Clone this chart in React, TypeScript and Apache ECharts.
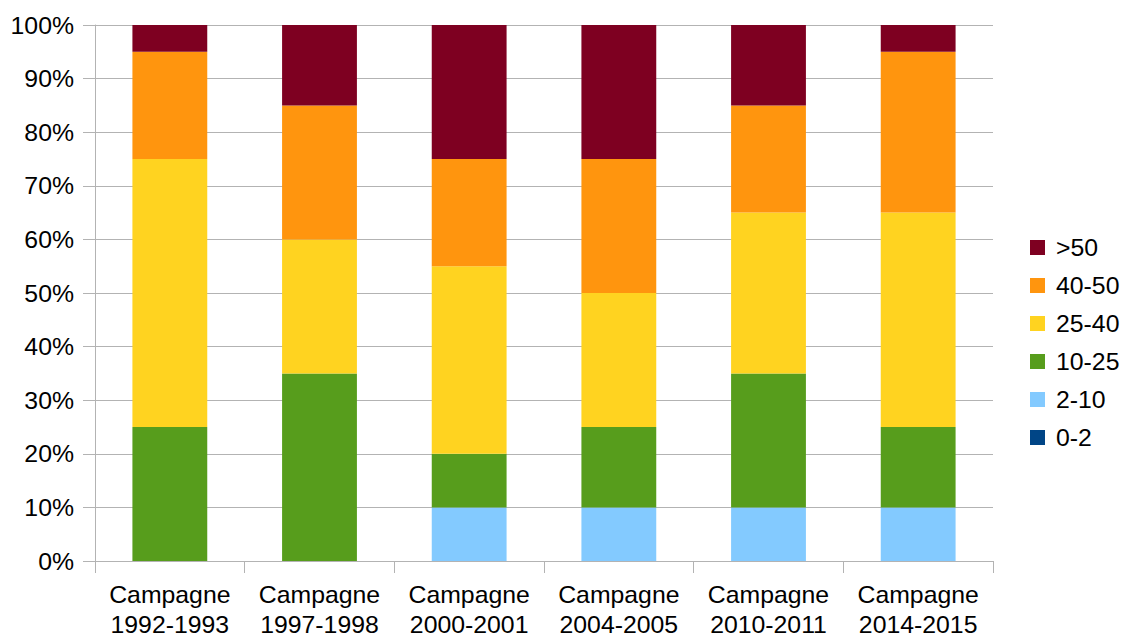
import React, { useEffect, useRef } from "react";
import * as echarts from "echarts";

const categories = [
  "Campagne\n1992-1993",
  "Campagne\n1997-1998",
  "Campagne\n2000-2001",
  "Campagne\n2004-2005",
  "Campagne\n2010-2011",
  "Campagne\n2014-2015",
];
const s0_2 = [0, 0, 0, 0, 0, 0];
const s2_10 = [0, 0, 10, 10, 10, 10];
const s10_25 = [25, 35, 10, 15, 25, 15];
const s25_40 = [50, 25, 35, 25, 30, 40];
const s40_50 = [20, 25, 20, 25, 20, 30];
const s50 = [5, 15, 25, 25, 15, 5];

const seriesNames = ["0-2", "2-10", "10-25", "25-40", "40-50", ">50"];
const seriesData = [s0_2, s2_10, s10_25, s25_40, s40_50, s50];
const colors = ["#004586", "#83CAFF", "#579D1C", "#FFD320", "#FF950E", "#7E0021"];

const FONT = "'Liberation Sans', Arial, sans-serif";

export default function App() {
  const ref = useRef<HTMLDivElement>(null);
  useEffect(() => {
    if (!ref.current) return;
    const chart = echarts.init(ref.current, null, { renderer: "svg" });
    chart.setOption({
      animation: false,
      textStyle: { fontFamily: FONT, color: "#000" },
      grid: { left: 95, right: 131, top: 25, bottom: 74, containLabel: false },
      legend: {
        orient: "vertical",
        left: 1025,
        top: 230,
        itemWidth: 15,
        itemHeight: 15,
        itemGap: 13,
        icon: "rect",
        data: [...seriesNames].reverse(),
        textStyle: { fontFamily: FONT, fontSize: 24.8, color: "#000", lineHeight: 15, padding: [0, 0, 0, 6] },
      },
      xAxis: {
        type: "category",
        data: categories,
        boundaryGap: true,
        axisLine: { show: true, lineStyle: { color: "#b3b3b3", width: 1 } },
        axisTick: { show: true, length: 12, alignWithLabel: false, lineStyle: { color: "#b3b3b3" } },
        axisLabel: {
          fontFamily: FONT,
          fontSize: 24.8,
          color: "#000",
          lineHeight: 30,
          margin: 18,
          interval: 0,
        },
      },
      yAxis: {
        type: "value",
        min: 0,
        max: 100,
        interval: 10,
        axisLine: { show: true, lineStyle: { color: "#b3b3b3", width: 1 } },
        axisTick: { show: true, length: 12, inside: false, lineStyle: { color: "#b3b3b3" } },
        splitLine: { show: true, lineStyle: { color: "#b3b3b3", width: 1 } },
        axisLabel: {
          formatter: "{value}%",
          fontFamily: FONT,
          fontSize: 24.8,
          color: "#000",
          margin: 21,
        },
      },
      series: seriesNames.map((name, i) => ({
        name,
        type: "bar",
        stack: "total",
        barWidth: "50%",
        data: seriesData[i],
        itemStyle: { color: colors[i] },
      })),
    });
    return () => chart.dispose();
  }, []);
  return <div ref={ref} style={{ width: 1124, height: 639, position: "absolute", left: 0, top: 0 }} />;
}
